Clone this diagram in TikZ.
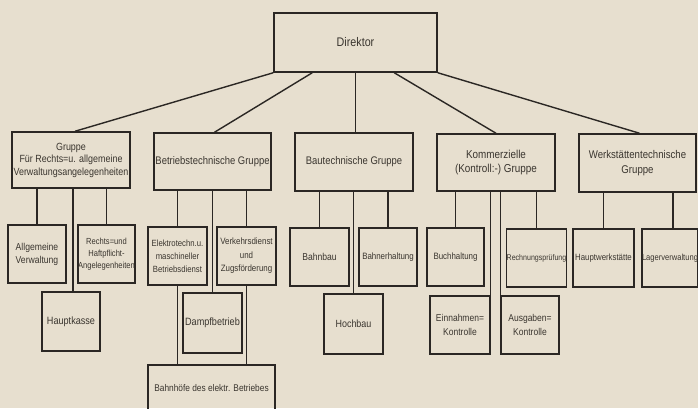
\documentclass[tikz,border=0pt]{standalone}
\usepackage{fontspec}
\setmainfont{Liberation Sans}[FakeStretch=0.86]
\usetikzlibrary{calc}
\definecolor{paper}{HTML}{E7DFCF}
\definecolor{ink}{HTML}{2B2724}
\definecolor{txt}{HTML}{3A352F}
\newcommand{\fs}[2]{\fontsize{#1}{#2}\selectfont}
\begin{document}
\begin{tikzpicture}[x=1pt,y=-1pt,
  box/.style={draw=ink,line width=1.5pt,align=center,text=txt,inner sep=0pt,
    font=\fs{10}{13}},
  grp/.style={box,font=\fs{11}{13.5}},
  sz/.style 2 args={minimum width=#1pt,minimum height=#2pt},
  conn/.style={draw=ink,line width=1.4pt}]
\fill[paper] (0,0) rectangle (698,408);
\useasboundingbox (0,0) rectangle (698,408);
\clip (0,0) rectangle (698,408);

% top
\node[box,sz={163}{59},font=\fs{12.5}{14}] (dir) at (355.5,42.5) {Direktor};

% groups
\node[grp,sz={118}{56},font=\fs{10.4}{12.5}] (g1) at (71,160) {Gruppe\\Für Rechts=u. allgemeine\\Verwaltungsangelegenheiten};
\node[grp,sz={117}{57}] (g2) at (212.5,161.5) {Betriebstechnische Gruppe};
\node[grp,sz={118}{58}] (g3) at (354,162) {Bautechnische Gruppe};
\node[grp,sz={118}{57},font=\fs{11.5}{14}] (g4) at (496,162.5) {Kommerzielle\\(Kontroll:-) Gruppe};
\node[grp,sz={117}{58},font=\fs{11.2}{15}] (g5) at (637.5,163) {Werkstättentechnische\\Gruppe};

% group 1 children
\node[box,sz={58}{58}] (a1) at (37,254) {Allgemeine\\Verwaltung};
\node[box,sz={57}{58},font=\fs{8.8}{12}] (a2) at (106.5,254) {Rechts=und\\Haftpflicht-\\Angelegenheiten};
\node[box,sz={58}{59},font=\fs{10.6}{13}] (a3) at (71,321.5) {Hauptkasse};

% group 2 children
\node[box,sz={59}{58},font=\fs{9}{13}] (b1) at (177.5,256) {Elektrotechn.u.\\maschineller\\Betriebsdienst};
\node[box,sz={59}{58},font=\fs{9.2}{13.5}] (b2) at (246.5,256) {Verkehrsdienst\\und\\Zugsförderung};
\node[box,sz={59}{60},font=\fs{10.6}{13}] (b3) at (212.5,323) {Dampfbetrieb};
\node[box,sz={127}{46},font=\fs{9.7}{12}] (b4) at (211.5,388) {Bahnhöfe des elektr. Betriebes};

% group 3 children
\node[box,sz={59}{58}] (c1) at (319.5,257) {Bahnbau};
\node[box,sz={58}{58},font=\fs{9.2}{12}] (c2) at (388,257) {Bahnerhaltung};
\node[box,sz={59}{60},font=\fs{10.4}{13}] (c3) at (353.5,324) {Hochbau};

% group 4 children
\node[box,sz={57}{58},font=\fs{9.2}{12}] (d1) at (455.5,257) {Buchhaltung};
\node[box,sz={59}{58},font=\fs{8.2}{12}] (d2) at (536.5,258) {Rechnungsprüfung};
\node[box,sz={60}{58},font=\fs{9.9}{14}] (d3) at (460,325) {Einnahmen=\\Kontrolle};
\node[box,sz={58}{58},font=\fs{9.9}{14}] (d4) at (530,325) {Ausgaben=\\Kontrolle};

% group 5 children
\node[box,sz={61}{58},font=\fs{9.1}{12}] (e1) at (603.5,258) {Hauptwerkstätte};
\node[box,sz={54}{58},font=\fs{8.8}{12}] (e2) at (670,258) {Lagerverwaltung};

% connectors from Direktor
\draw[conn] (dir.south west) -- ($(g1.north)+(4,0)$);
\draw[conn] ($(dir.south west)+(39,0)$) -- ($(g2.north)+(2,0)$);
\draw[conn] (dir.south) -- (dir.south |- g3.north);
\draw[conn] ($(dir.south west)+(121,0)$) -- (g4.north);
\draw[conn] (dir.south east) -- ($(g5.north)+(2,0)$);

% group 1
\draw[conn] (g1.south -| a1.north) -- (a1.north);
\draw[conn] (g1.south -| a2.north) -- (a2.north);
\draw[conn] ($(g1.south -| a3.north)+(2,0)$) -- ($(a3.north)+(2,0)$);

% group 2
\draw[conn] (g2.south -| b1.north) -- (b1.north);
\draw[conn] (g2.south -| b2.north) -- (b2.north);
\draw[conn] (g2.south -| b3.north) -- (b3.north);
\draw[conn] (b1.south) -- (b1.south |- b4.north);
\draw[conn] (b2.south) -- (b2.south |- b4.north);

% group 3
\draw[conn] (g3.south -| c1.north) -- (c1.north);
\draw[conn] (g3.south -| c2.north) -- (c2.north);
\draw[conn] (g3.south -| c3.north) -- (c3.north);

% group 4
\draw[conn] (g4.south -| d1.north) -- (d1.north);
\draw[conn] (g4.south -| d2.north) -- (d2.north);
\draw[conn] (g4.south -| d3.north east) -- (d3.north east);
\draw[conn] (g4.south -| d4.north west) -- (d4.north west);

% group 5
\draw[conn] (g5.south -| e1.north) -- (e1.north);
\draw[conn] ($(g5.south -| e2.north)+(3,0)$) -- ($(e2.north)+(3,0)$);
\end{tikzpicture}
\end{document}
